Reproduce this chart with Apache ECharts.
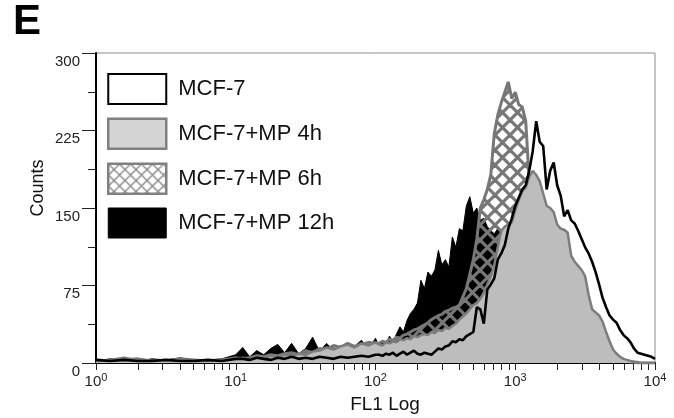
<!DOCTYPE html>
<html>
<head>
<meta charset="utf-8">
<script src="https://cdn.jsdelivr.net/npm/echarts@6/dist/echarts.min.js"></script>
<style>
  html, body { margin: 0; padding: 0; background: #fff; }
  #chart { width: 674px; height: 418px; }
</style>
</head>
<body>
<div id="chart"></div>
<script>
// FL1 channel positions in log10 units (10^0 .. 10^4)
const fl1Log = [
  0, 0.1, 0.2, 0.3, 0.4, 0.5, 0.6, 0.7, 0.8, 0.9, 1.0,
  1.05, 1.1, 1.15, 1.2, 1.25, 1.3, 1.35, 1.4, 1.45, 1.5,
  1.55, 1.6, 1.65, 1.7, 1.75, 1.8, 1.85, 1.9, 1.95, 2.0,
  2.025, 2.05, 2.075, 2.1, 2.125, 2.15, 2.175, 2.2, 2.225, 2.25,
  2.275, 2.3, 2.325, 2.35, 2.375, 2.4, 2.425, 2.45, 2.475, 2.5,
  2.525, 2.55, 2.575, 2.6, 2.625, 2.65, 2.675, 2.7, 2.725, 2.75,
  2.775, 2.8, 2.825, 2.85, 2.875, 2.9, 2.925, 2.95, 2.975, 3.0,
  3.025, 3.05, 3.075, 3.1, 3.125, 3.15, 3.175, 3.2, 3.225, 3.25,
  3.275, 3.3, 3.325, 3.35, 3.375, 3.4, 3.425, 3.45, 3.475, 3.5,
  3.525, 3.55, 3.575, 3.6, 3.625, 3.65, 3.675, 3.7, 3.725, 3.75,
  3.775, 3.8, 3.825, 3.85, 3.875, 3.9, 3.925, 3.95, 3.975, 4.0
];

const countsMCF7 = [
  3, 2, 3, 2, 2, 3, 2, 2, 3, 2, 4,
  4, 3, 5, 4, 3, 5, 4, 6, 4, 5,
  4, 6, 5, 4, 6, 5, 6, 7, 6, 8,
  8, 7, 9, 8, 10, 7, 9, 11, 8, 10,
  12, 9, 8, 10, 9, 8, 11, 14, 13, 16,
  17, 21, 20, 23, 22, 26, 28, 30, 54, 52,
  38, 71, 76, 82, 100, 106, 114, 130, 140, 152,
  160, 168, 172, 186, 205, 234, 214, 210, 168, 186,
  194, 172, 162, 142, 148, 138, 135, 128, 120, 112,
  106, 98, 88, 76, 63, 54, 46, 42, 39, 32,
  27, 24, 20, 14, 10, 9, 8, 7, 6, 4
];

const countsMP4h = [
  2, 3, 5, 3, 2, 3, 3, 2, 2, 3, 4,
  5, 4, 6, 5, 7, 6, 8, 7, 9, 8,
  11, 12, 15, 13, 16, 18, 15, 19, 17, 20,
  18, 17, 20, 19, 21, 20, 23, 22, 24, 23,
  26, 25, 27, 28, 27, 30, 29, 32, 31, 34,
  33, 36, 38, 42, 45, 48, 52, 56, 58, 62,
  68, 76, 84, 95, 112, 128, 132, 134, 136, 148,
  158, 166, 170, 180, 186, 182, 176, 164, 152, 150,
  146, 134, 130, 129, 126, 104, 98, 94, 90, 84,
  66, 52, 49, 46, 40, 30, 21, 13, 9, 6,
  4, 3, 2, 1, 1, 0, 0, 0, 0, 0
];

const countsMP6h = [
  3, 2, 3, 4, 2, 2, 4, 3, 2, 3, 5,
  4, 5, 7, 6, 8, 7, 9, 10, 8, 12,
  10, 14, 13, 17, 15, 19, 16, 18, 20, 19,
  19, 21, 20, 23, 22, 25, 24, 27, 28, 30,
  32, 33, 35, 37, 39, 42, 44, 46, 47, 50,
  51, 53, 54, 56, 64, 72, 86, 100, 120, 150,
  158, 168, 182, 222, 240, 252, 262, 272, 256, 262,
  250, 248, 234, 176, 172, 170, 168, 160, 148, 146,
  140, 130, 126, 124, 118, 100, 94, 90, 86, 80,
  62, 50, 46, 42, 36, 26, 18, 11, 7, 5,
  3, 2, 1, 1, 0, 0, 0, 0, 0, 0
];

const countsMP12h = [
  2, 4, 3, 2, 4, 3, 5, 3, 3, 4, 8,
  15, 6, 12, 8, 14, 18, 10, 19, 9, 14,
  25, 11, 19, 12, 17, 10, 16, 22, 13, 24,
  16, 22, 18, 26, 20, 28, 35, 30, 41, 48,
  52, 58, 80, 72, 88, 84, 90, 109, 95, 100,
  93, 122, 112, 130, 128, 152, 161, 145, 150, 138,
  140, 132, 128, 125, 130, 128, 125, 122, 118, 115,
  112, 110, 105, 100, 95, 90, 84, 78, 70, 62,
  55, 48, 42, 36, 30, 25, 20, 16, 12, 9,
  7, 5, 4, 3, 2, 1, 1, 0, 0, 0,
  0, 0, 0, 0, 0, 0, 0, 0, 0, 0
];

const seriesNames = ['MCF-7', 'MCF-7+MP 4h', 'MCF-7+MP 6h', 'MCF-7+MP 12h'];
const decades = [0, 1, 2, 3, 4];
const minorSteps = [2, 3, 4, 5, 6, 7, 8, 9];
const yTicks = [0, 75, 150, 225, 300];

const FONT = '"Liberation Sans", Arial, sans-serif';

function pairs(ys) {
  return fl1Log.map(function (x, i) { return [x, ys[i]]; });
}

// cross hatch tile
function hatch(size, lw, color, bg) {
  const c = document.createElement('canvas');
  c.width = size;
  c.height = size;
  const g = c.getContext('2d');
  if (bg) {
    g.fillStyle = bg;
    g.fillRect(0, 0, size, size);
  }
  g.strokeStyle = color;
  g.lineWidth = lw;
  [-size, 0, size].forEach(function (o) {
    g.beginPath(); g.moveTo(o, 0); g.lineTo(o + size, size); g.stroke();
    g.beginPath(); g.moveTo(o + size, 0); g.lineTo(o, size); g.stroke();
  });
  return c;
}

const plotHatch = { image: hatch(15, 3.2, '#777777', null), repeat: 'repeat' };
const legendHatch = { image: hatch(11.6, 1.4, '#8a8a8a', '#ffffff'), repeat: 'repeat' };

const tickValues = [];
decades.forEach(function (d) {
  tickValues.push(d);
  if (d < 4) {
    minorSteps.forEach(function (k) { tickValues.push(d + Math.log10(k)); });
  }
});

const chartInstance = echarts.init(document.getElementById('chart'), null, { renderer: 'canvas' });

const option = {
  animation: false,
  backgroundColor: '#fff',
  grid: {
    left: 96, right: 19, top: 53, bottom: 55,
    show: true,
    borderColor: '#8c8c8c',
    borderWidth: 1
  },
  legend: {
    orient: 'vertical',
    left: 107,
    top: 73,
    padding: 0,
    itemWidth: 58,
    itemHeight: 30,
    itemGap: 12.5,
    selectedMode: false,
    icon: 'rect',
    textStyle: { fontSize: 22, color: '#111', fontFamily: FONT, padding: [0, 0, 0, 7] },
    data: [
      { name: seriesNames[0], itemStyle: { color: '#fff', borderColor: '#000', borderWidth: 2 } },
      { name: seriesNames[1], itemStyle: { color: '#d4d4d4', borderColor: '#808080', borderWidth: 2.5 } },
      { name: seriesNames[2], itemStyle: { color: legendHatch, borderColor: '#808080', borderWidth: 2.5 } },
      { name: seriesNames[3], itemStyle: { color: '#000', borderColor: '#000', borderWidth: 1 } }
    ]
  },
  xAxis: {
    type: 'value',
    min: 0,
    max: 4,
    axisLine: { lineStyle: { color: '#000', width: 2 } },
    axisTick: { show: true, length: 7, customValues: tickValues, lineStyle: { color: '#222', width: 1 } },
    splitLine: { show: false },
    axisLabel: {
      customValues: decades,
      margin: 9,
      showMinLabel: true,
      showMaxLabel: true,
      formatter: function (v) { return '{b|10}{s|' + v + '}'; },
      rich: {
        b: { fontSize: 15, color: '#222', fontFamily: FONT },
        s: { fontSize: 11, color: '#222', fontFamily: FONT, padding: [0, 0, 8, 0] }
      }
    }
  },
  yAxis: {
    type: 'value',
    min: 0,
    max: 300,
    interval: 75,
    axisLine: { show: true, lineStyle: { color: '#000', width: 2 } },
    axisTick: { show: true, length: 14, lineStyle: { color: '#222', width: 1 } },
    minorTick: { show: true, splitNumber: 2, length: 8, lineStyle: { color: '#222', width: 1 } },
    splitLine: { show: false },
    axisLabel: {
      margin: 16,
      fontSize: 15,
      color: '#222',
      fontFamily: FONT,
      verticalAlign: 'top',
      padding: [1, 0, 0, 0],
      formatter: function (v) { return yTicks.indexOf(v) >= 0 ? String(v) : ''; }
    }
  },
  graphic: [
    { type: 'text', left: 13, top: 1, style: { text: 'E', font: 'bold 42px ' + FONT, fill: '#000' } },
    {
      type: 'text', x: 38, y: 188, rotation: Math.PI / 2,
      style: { text: 'Counts', font: '18px ' + FONT, fill: '#111', align: 'center', verticalAlign: 'middle' }
    },
    {
      type: 'text', x: 385, y: 405,
      style: { text: 'FL1 Log', font: '19px ' + FONT, fill: '#111', align: 'center', verticalAlign: 'middle' }
    }
  ],
  series: [
    {
      name: seriesNames[3],
      type: 'line',
      z: 2,
      showSymbol: false,
      data: pairs(countsMP12h),
      lineStyle: { color: '#000', width: 1 },
      itemStyle: { color: '#000' },
      areaStyle: { color: '#000', opacity: 1 }
    },
    {
      name: seriesNames[2],
      type: 'line',
      z: 3,
      showSymbol: false,
      data: pairs(countsMP6h),
      lineStyle: { color: '#777777', width: 3 },
      itemStyle: { color: '#777777' },
      areaStyle: { color: plotHatch, opacity: 1 }
    },
    {
      name: seriesNames[1],
      type: 'line',
      z: 4,
      showSymbol: false,
      data: pairs(countsMP4h),
      lineStyle: { color: '#7d7d7d', width: 2.5 },
      itemStyle: { color: '#7d7d7d' },
      areaStyle: { color: '#bdbdbd', opacity: 1 }
    },
    {
      name: seriesNames[0],
      type: 'line',
      z: 5,
      showSymbol: false,
      data: pairs(countsMCF7),
      lineStyle: { color: '#000', width: 2.6 },
      itemStyle: { color: '#000' }
    }
  ]
};

chartInstance.setOption(option);
</script>
</body>
</html>
